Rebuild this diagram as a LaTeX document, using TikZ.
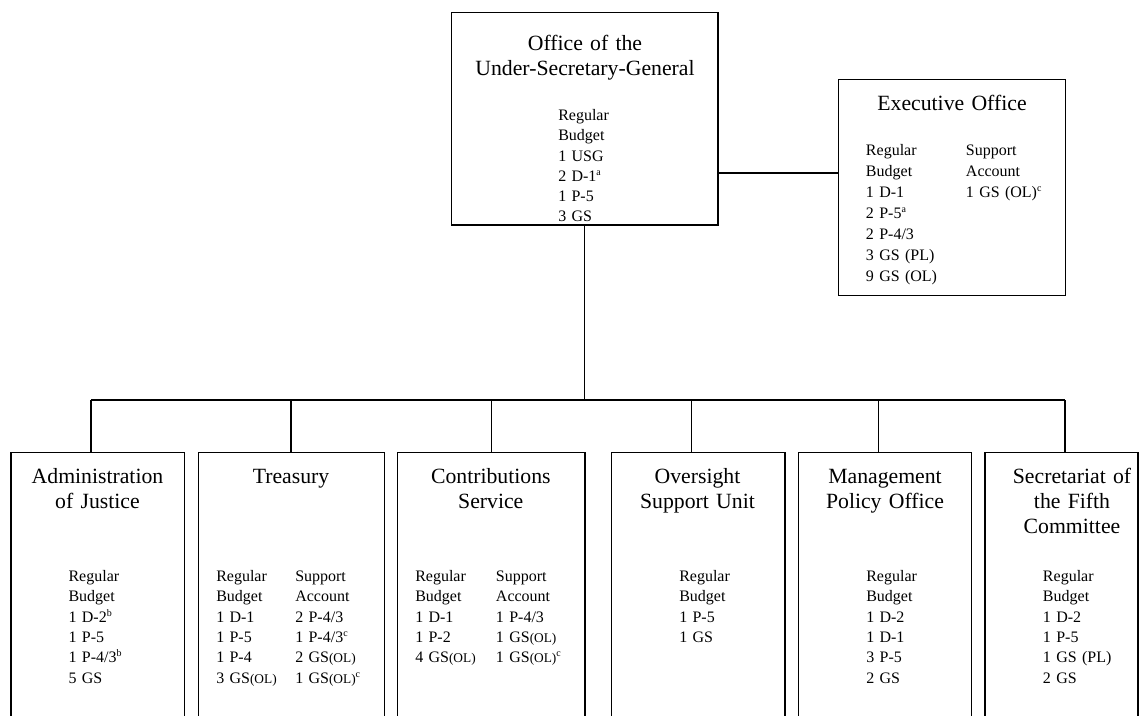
\documentclass[tikz,border=0pt]{standalone}
\usepackage{fontspec}
\setmainfont{Liberation Serif}
\usetikzlibrary{fit}
% small raised footnote letters and the reduced-size "(OL)"
\newcommand\fnote[1]{\textsuperscript{\fontsize{7.5}{7.5}\selectfont #1}}
\newcommand\smol[1]{{\fontsize{10}{10}\selectfont #1}}
\begin{document}
\begin{tikzpicture}[x=0.75pt,y=-0.75pt,
  unit/.style={draw,line width=0.95pt,inner sep=0pt,outer sep=0pt},
  conn/.style={line width=0.95pt},
  ttl/.style={font=\fontsize{16.3}{18.75}\selectfont,align=center,text width=220pt,anchor=base,inner sep=0pt},
  col/.style={font=\fontsize{12}{15.2}\selectfont,align=left,text width=70pt,anchor=base west,inner sep=0pt},
  widecol/.style={col,font=\fontsize{12}{15.8}\selectfont}]
\useasboundingbox (0,0) rectangle (1146,715);
\clip (0,0) rectangle (1146,715);

% ---- boxes ----
\node[unit,fit={(451.7,12.7) (718,225)}] (usg) {};
\node[unit,fit={(838.3,79.3) (1065.7,295.3)}] (exec) {};
\node[unit,fit={(11,452.7) (184.3,725)}] (aoj) {};
\node[unit,fit={(198.3,452.7) (384.5,725)}] (tre) {};
\node[unit,fit={(397.7,452.7) (585,725)}] (con) {};
\node[unit,fit={(611.7,452.7) (785,725)}] (osu) {};
\node[unit,fit={(798.3,452.7) (971.7,725)}] (mpo) {};
\node[unit,fit={(985,452.7) (1138,725)}] (sfc) {};

% ---- connectors ----
\coordinate (hj) at (718,173);
\draw[conn] (usg.east |- hj) -- (exec.west |- hj);
\coordinate (d1) at (91,400);
\coordinate (d2) at (291,400);
\coordinate (d3) at (491.7,400);
\coordinate (d4) at (691.7,400);
\coordinate (d5) at (878.3,400);
\coordinate (d6) at (1065,400);
\draw[conn] (usg.south) -- (usg.south |- d1);
\draw[conn] (d1) -- (d6);
\draw[conn] (d1) -- (d1 |- aoj.north);
\draw[conn] (d2) -- (d2 |- tre.north);
\draw[conn] (d3) -- (d3 |- con.north);
\draw[conn] (d4) -- (d4 |- osu.north);
\draw[conn] (d5) -- (d5 |- mpo.north);
\draw[conn] (d6) -- (d6 |- sfc.north);

% ---- titles ----
\node[ttl] (usgt) at (585,50.7) {Office of the\\Under-Secretary-General};
\node[ttl] (exect) at (952,110) {Executive Office};
\node[ttl] (aojt) at (97.5,483) {Administration\\of Justice};
\node[ttl] (tret) at (291,483) {Treasury};
\node[ttl] (cont) at (490.8,483) {Contributions\\Service};
\node[ttl] (osut) at (697.5,483) {Oversight\\Support Unit};
\node[ttl] (mpot) at (885,483) {Management\\Policy Office};
\node[ttl] (sfct) at (1072,483) {Secretariat of\\the Fifth\\Committee};

% ---- staffing tables ----
\node[col] (usgrb) at (558,120.5) {Regular\\Budget\\1 USG\\2 D-1\fnote{a}\\1 P-5\\3 GS};
\node[widecol] (execrb) at (865.7,155) {Regular\\Budget\\1 D-1\\2 P-5\fnote{a}\\2 P-4/3\\3 GS (PL)\\9 GS (OL)};
\node[widecol] (execsa) at (965.7,155) {Support\\Account\\1 GS (OL)\fnote{c}};
\node[col] (aojrb) at (68.3,581.7) {Regular\\Budget\\1 D-2\fnote{b}\\1 P-5\\1 P-4/3\fnote{b}\\5 GS};
\node[col] (trerb) at (216,581.7) {Regular\\Budget\\1 D-1\\1 P-5\\1 P-4\\3 GS\smol{(OL)}};
\node[col] (tresa) at (295,581.7) {Support\\Account\\2 P-4/3\\1 P-4/3\fnote{c}\\2 GS\smol{(OL)}\\1 GS\smol{(OL)}\fnote{c}};
\node[col] (conrb) at (415,581.7) {Regular\\Budget\\1 D-1\\1 P-2\\4 GS\smol{(OL)}};
\node[col] (consa) at (495.7,581.7) {Support\\Account\\1 P-4/3\\1 GS\smol{(OL)}\\1 GS\smol{(OL)}\fnote{c}};
\node[col] (osurb) at (679,581.7) {Regular\\Budget\\1 P-5\\1 GS};
\node[col] (mporb) at (866,581.7) {Regular\\Budget\\1 D-2\\1 D-1\\3 P-5\\2 GS};
\node[col] (sfcrb) at (1042.7,581.7) {Regular\\Budget\\1 D-2\\1 P-5\\1 GS (PL)\\2 GS};
\end{tikzpicture}
\end{document}
